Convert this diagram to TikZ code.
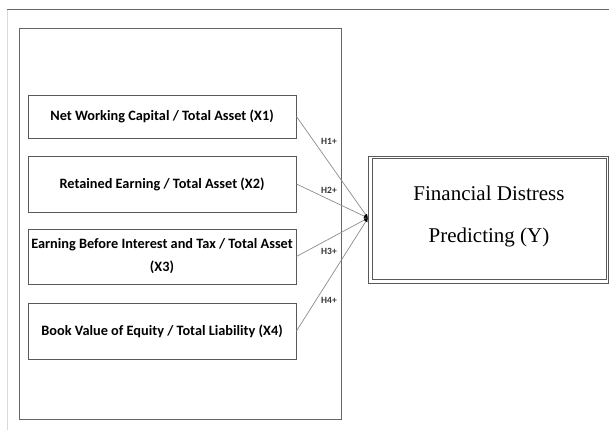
\documentclass[tikz,border=0pt]{standalone}
\usepackage{fontspec}
\setmainfont{Liberation Serif}
\newfontfamily\carlitofam{Carlito}
\usetikzlibrary{arrows.meta}
\begin{document}
\begin{tikzpicture}[x=1pt,y=-1pt,
  varbox/.style={draw=black!65,line width=0.9pt,minimum width=268pt,minimum height=43pt,inner sep=0pt,font=\carlitofam\bfseries\fontsize{14.3}{23}\selectfont,align=center},
  link/.style={draw=black!45,line width=0.7pt,-{Latex[length=4pt,width=3.5pt,color=black,fill=black]}},
  hlab/.style={font=\carlitofam\bfseries\fontsize{9.5}{10}\selectfont,text=black!80,inner sep=0pt}]
\useasboundingbox (0,0) rectangle (609,430);
\draw[black!60,line width=1pt] (7,10) -- (609,10);
\draw[black!15,line width=1pt] (7.5,10) -- (7.5,430);
\draw[black!60,line width=0.9pt] (19,28) rectangle (341,419);
\node[varbox] (x1) at (162,116.5) {Net Working Capital / Total Asset (X1)};
\node[varbox,minimum height=56pt] (x2) at (162,184) {Retained Earning / Total Asset (X2)};
\node[varbox,minimum height=55pt] (x3) at (162,256.5) {Earning Before Interest and Tax / Total Asset\\(X3)};
\node[varbox,minimum height=56pt] (x4) at (162,331) {Book Value of Equity / Total Liability (X4)};
\coordinate (j) at (368,218);
\draw[link] (x1.east) -- (j);
\draw[link] (x2.east) -- (j);
\draw[link] (x3.east) -- (j);
\draw[link] (x4.east) -- (j);
\node[hlab] (h1) at (329,141) {H1+};
\node[hlab] (h2) at (329,190) {H2+};
\node[hlab] (h3) at (329,251) {H3+};
\node[hlab] (h4) at (329,300) {H4+};
\draw[black!65,line width=0.9pt] (368,156) rectangle (608,283);
\draw[black!65,line width=0.9pt] (372,158) rectangle (606,279);
\node[font=\fontsize{21}{42}\selectfont,align=center,inner sep=0pt] (y) at (489,216) {Financial Distress\\Predicting (Y)};
\end{tikzpicture}
\end{document}
